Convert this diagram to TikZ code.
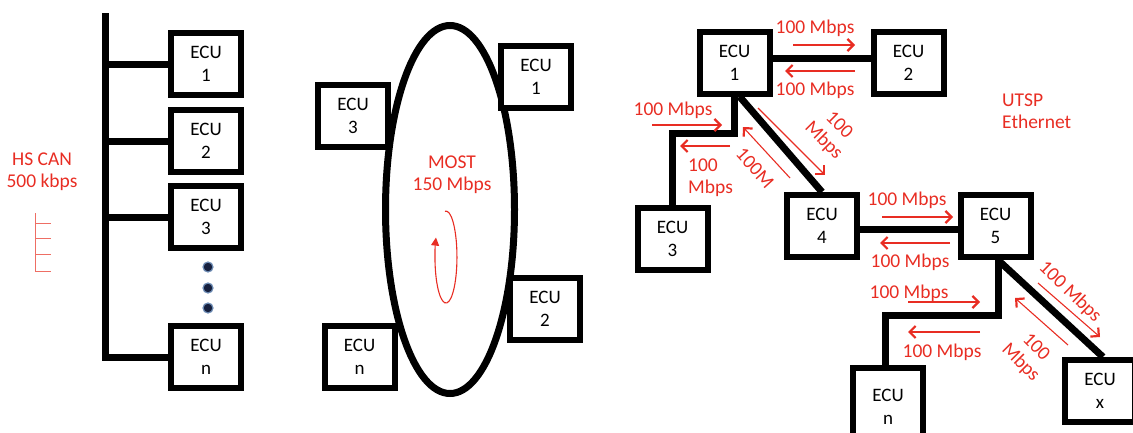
\documentclass[tikz,border=0pt]{standalone}
\usepackage{fontspec}
\setmainfont{Carlito}
\usetikzlibrary{arrows.meta,calc}
\definecolor{lbl}{RGB}{232,45,35}
\definecolor{comb}{RGB}{238,110,100}
\definecolor{dotc}{RGB}{22,32,62}
\definecolor{dothalo}{RGB}{110,140,180}
\begin{document}
\begin{tikzpicture}[x=1pt,y=-1pt,
  ecu/.style={draw=black,line width=6pt,fill=white,minimum width=70pt,minimum height=62pt,inner sep=0pt,align=center,font=\fontsize{19}{23}\selectfont},
  link/.style={line width=7pt,line join=miter},
  lbl/.style={text=lbl,font=\fontsize{19.5}{22}\selectfont,inner sep=0pt,align=center},
  dat/.style={draw=lbl,line width=1.1pt,-{Straight Barb[length=6pt,width=12pt,line width=2.2pt]}},
  dotstyle/.style={circle,fill=dotc,draw=dothalo,line width=1.2pt,minimum size=10pt,inner sep=0pt},
]
\useasboundingbox (0,0) rectangle (1133,432);

% ---------------- HS CAN ----------------
\node[ecu] (can1) at (206,64) {ECU\\1};
\node[ecu] (can2) at (206,141) {ECU\\2};
\node[ecu] (can3) at (206,217) {ECU\\3};
\node[ecu] (cann) at (206,357) {ECU\\n};
\node[dotstyle] (d1) at (208,267) {};
\node[dotstyle] (d2) at (208,288) {};
\node[dotstyle] (d3) at (208,308) {};
\coordinate (bt) at (105,13);
\draw[link] (bt) |- (cann.west);
\draw[link] (bt |- can1.west) -- (can1.west);
\draw[link] (bt |- can2.west) -- (can2.west);
\draw[link] (bt |- can3.west) -- (can3.west);
\node[lbl] (canlbl) at (42,172) {HS CAN\\500 kbps};
\draw[comb,line width=1pt] (35,213) -- (35,271) -- (51,271)
  (35,223) -- (51,223) (35,238) -- (51,238) (35,254) -- (51,254);

% ---------------- MOST ----------------
\draw[line width=7pt] (450,209.5) ellipse [x radius=64.5, y radius=184];
\node[ecu] (m1) at (536,76.5) {ECU\\1};
\node[ecu] (m3) at (353,115.5) {ECU\\3};
\node[ecu] (m2) at (545,309) {ECU\\2};
\node[ecu] (mn) at (359.5,357) {ECU\\n};
\node[lbl] (mostlbl) at (452,175) {MOST\\150 Mbps};
\draw[draw=lbl,line width=1.1pt,-{Triangle[length=8pt,width=8pt]}] (445,211.2) arc[start angle=-95,end angle=205,x radius=11,y radius=46];

% ---------------- Ethernet ----------------
\node[ecu] (e1) at (734.5,62.5) {ECU\\1};
\node[ecu] (e2) at (908.5,62.5) {ECU\\2};
\node[ecu] (e3) at (672.5,239) {ECU\\3};
\node[ecu] (e4) at (822,226) {ECU\\4};
\node[ecu] (e5) at (995.5,226) {ECU\\5};
\node[ecu,minimum height=78pt] (en) at (888,407) {ECU\\n};
\node[ecu] (ex) at (1100,391) {ECU\\x};

\coordinate (c13) at (700,133);
\coordinate (c5n) at (940,315);
\draw[link] ([yshift=4.5pt]e1.east) -- ([yshift=4.5pt]e2.west);
\draw[link] (e1.south) |- (c13) -| (e3.north);
\draw[link] ([xshift=5pt]e1.south) -- (e4.north);
\draw[link] ([yshift=-3pt]e4.east) -- ([yshift=-3pt]e5.west);
\draw[link] ([xshift=2.5pt]e5.south) |- (c5n) -| ([xshift=-3pt]en.north);
\draw[link] ([xshift=2.5pt]e5.south) -- ([xshift=3pt]ex.north);

\node[lbl,anchor=west,align=left] (utsp) at (1002,111) {UTSP\\Ethernet};

% ECU1 - ECU2
\node[lbl] (l12a) at (815,28) {100 Mbps};
\draw[dat] (793,45) -- (855,45);
\draw[dat] (855,71) -- (785,71);
\node[lbl] (l12b) at (815,90) {100 Mbps};

% ECU1 - ECU3
\node[lbl] (l13a) at (673,110) {100 Mbps};
\draw[dat] (652,125) -- (722,125);
\draw[dat] (730,146) -- (680,146);
\node[lbl,anchor=west,align=left] (l13b) at (688,178) {100\\Mbps};

% ECU1 - ECU4
\node[lbl,rotate=-45] (l14a) at (831,133) {100\\Mbps};
\draw[dat] (758,108) -- (825,175);
\node[lbl,rotate=-48] (l14b) at (755,168) {100M};
\draw[dat] (790,178) -- (743,127);

% ECU4 - ECU5
\node[lbl] (l45a) at (907,200) {100 Mbps};
\draw[dat] (882,217) -- (953,217);
\draw[dat] (950,243) -- (880,243);
\node[lbl] (l45b) at (910,262) {100 Mbps};

% ECU5 - ECUn
\node[lbl] (l5na) at (909,293) {100 Mbps};
\draw[dat] (908,302) -- (980,302);
\draw[dat] (980,332) -- (908,332);
\node[lbl] (l5nb) at (942,352) {100 Mbps};

% ECU5 - ECUx
\node[lbl,rotate=-44] (l5xa) at (1070,292) {100 Mbps};
\draw[dat] (1038,283) -- (1100,337);
\node[lbl,rotate=-45] (l5xb) at (1028,355) {100\\Mbps};
\draw[dat] (1068,345) -- (1015,298);
\end{tikzpicture}
\end{document}
